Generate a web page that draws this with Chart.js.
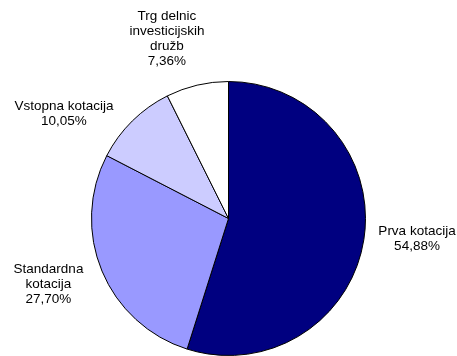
<!DOCTYPE html>
<html>
<head>
<meta charset="utf-8">
<script src="https://cdn.jsdelivr.net/npm/chart.js@4"></script>
<style>
  html, body { margin: 0; padding: 0; background: #ffffff; }
  #wrap { width: 457px; height: 356px; }
</style>
</head>
<body>
<div id="wrap"><canvas id="c" width="457" height="356"></canvas></div>
<script>
const categories = ["Prva kotacija", "Standardna kotacija", "Vstopna kotacija", "Trg delnic investicijskih družb"];
const labelLines = [["Prva kotacija"], ["Standardna", "kotacija"], ["Vstopna kotacija"], ["Trg delnic", "investicijskih", "družb"]];
const shares = [54.88, 27.70, 10.05, 7.36];
const sliceColors = ["#000080", "#9999FF", "#CCCCFF", "#FFFFFF"];

// label block centre, as offsets from the pie centre in units of the radius
const labelPlacement = [[1.376, 0.146], [-1.314, 0.478], [-1.201, -0.763], [-0.449, -1.314]];

const labelPlugin = {
  id: 'sliceLabels',
  afterDatasetsDraw(chart) {
    const ctx = chart.ctx;
    const meta = chart.getDatasetMeta(0);
    ctx.save();
    ctx.font = '13.5px "Liberation Sans", Arial, sans-serif';
    ctx.fillStyle = '#000000';
    ctx.textAlign = 'center';
    ctx.textBaseline = 'middle';
    const lh = 15;
    meta.data.forEach((arc, i) => {
      const r = arc.outerRadius;
      const cx = arc.x + labelPlacement[i][0] * r;
      const cy = arc.y + labelPlacement[i][1] * r;
      const lines = labelLines[i].concat([shares[i].toFixed(2).replace('.', ',') + '%']);
      const top = cy - (lines.length - 1) * lh / 2;
      lines.forEach((t, k) => ctx.fillText(t, cx, top + k * lh));
    });
    ctx.restore();
  }
};

new Chart(document.getElementById('c'), {
  type: 'pie',
  data: {
    labels: categories,
    datasets: [{
      data: shares,
      backgroundColor: sliceColors,
      borderColor: '#000000',
      borderWidth: 1,
      hoverOffset: 0
    }]
  },
  options: {
    responsive: false,
    animation: false,
    events: [],
    layout: { padding: { top: 81, bottom: 0, left: 0, right: 0 } },
    plugins: {
      legend: { display: false },
      tooltip: { enabled: false }
    }
  },
  plugins: [labelPlugin]
});
</script>
</body>
</html>
